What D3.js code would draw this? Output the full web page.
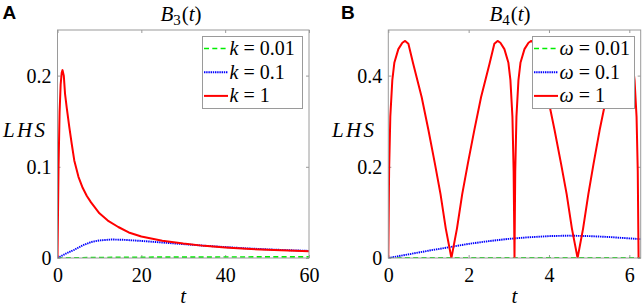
<!DOCTYPE html>
<html>
<head>
<meta charset="utf-8">
<script src="https://cdn.jsdelivr.net/npm/d3@7"></script>
<style>
  html, body { margin: 0; padding: 0; background: #fff; }
  svg { display: block; }
  text { font-family: "Liberation Serif", "DejaVu Serif", serif; fill: #000; }
</style>
</head>
<body>
<div id="chart"></div>
<script>
// ── Panel A: B3(t) ─────────────────────────────────────────────────────────
const tB3 = [0, 0.25, 0.5, 0.75, 1.0, 1.2, 1.5, 1.8, 2.2, 2.8, 3.4, 4, 5, 6, 7, 8, 10, 12, 14.5, 17, 20, 25, 30, 35, 40, 45, 50, 55, 60];
const b3k1 = [0, 0.1, 0.16, 0.19, 0.203, 0.206, 0.2, 0.18, 0.165, 0.144, 0.125, 0.107, 0.089, 0.077, 0.068, 0.061, 0.049, 0.041, 0.034, 0.028, 0.0235, 0.019, 0.0158, 0.0133, 0.0115, 0.0101, 0.009, 0.0082, 0.0075];
const tB3b = [0, 2, 4, 6, 8, 10, 13, 16, 20, 25, 30, 35, 40, 45, 50, 55, 60];
const b3k01 = [0, 0.0048, 0.009, 0.0138, 0.0175, 0.0193, 0.0203, 0.0199, 0.0187, 0.017, 0.0152, 0.0135, 0.012, 0.0106, 0.0095, 0.0086, 0.0078];
const b3k001 = [0, 0.0001, 0.0002, 0.0003, 0.0004, 0.0005, 0.0006, 0.0007, 0.0008, 0.0009, 0.001, 0.001, 0.0011, 0.0011, 0.0012, 0.0012, 0.0012];

// ── Panel B: B4(t) ─────────────────────────────────────────────────────────
const tB4r = [0, 0.02, 0.05, 0.1, 0.15, 0.25, 0.35, 0.42, 0.5, 0.62, 0.83, 1.0, 1.16, 1.3, 1.43, 1.571,
              1.71, 1.84, 1.98, 2.14, 2.31, 2.52, 2.64, 2.72, 2.79, 2.89, 2.99, 3.04, 3.09, 3.12, 3.1416,
              3.16, 3.19, 3.24, 3.29, 3.39, 3.49, 3.56, 3.64, 3.76, 3.97, 4.14, 4.30, 4.44, 4.57, 4.712,
              4.85, 4.98, 5.11, 5.26, 5.43, 5.63, 5.75, 5.83, 5.89, 5.99, 6.08, 6.13, 6.18, 6.21, 6.23];
const b4w1 = [0, 0.19, 0.31, 0.39, 0.428, 0.458, 0.472, 0.476, 0.47, 0.426, 0.353, 0.28, 0.207, 0.14, 0.065, 0,
              0.065, 0.14, 0.207, 0.28, 0.353, 0.426, 0.47, 0.476, 0.472, 0.458, 0.428, 0.39, 0.31, 0.19, 0,
              0.19, 0.31, 0.39, 0.428, 0.458, 0.472, 0.476, 0.47, 0.426, 0.353, 0.28, 0.207, 0.14, 0.065, 0,
              0.065, 0.14, 0.207, 0.28, 0.353, 0.426, 0.47, 0.476, 0.472, 0.458, 0.428, 0.39, 0.31, 0.19, 0];
const tB4b = [0, 0.5, 1, 1.5, 2, 2.5, 3, 3.5, 4, 4.5, 5, 5.5, 6, 6.2832];
const b4w01 = [0, 0.008, 0.016, 0.0235, 0.031, 0.037, 0.042, 0.0455, 0.048, 0.049, 0.048, 0.046, 0.043, 0.0415];
const b4w001 = [0, 0.0001, 0.0001, 0.0002, 0.0002, 0.0003, 0.0003, 0.0004, 0.0004, 0.0004, 0.0005, 0.0005, 0.0005, 0.0005];

const xTicksA = [0, 20, 40, 60];
const yTicksA = [0, 0.1, 0.2];
const xTicksB = [0, 2, 4, 6];
const yTicksB = [0, 0.2, 0.4];

const legendA = ["0.01", "0.1", "1"];
const legendB = ["0.01", "0.1", "1"];

const W = 643, H = 308;
const AXIS_GREY = "#9a9a9a";
const FS = 20;
const SERIF = '"Liberation Serif", "DejaVu Serif", serif';

const STYLES = [
  { color: "#00ee00", width: 1.7, dash: "5,3.3" },
  { color: "#0000ff", width: 1.9, dash: "1.4,0.8" },
  { color: "#ff0000", width: 2,   dash: null }
];

const svg = d3.select("#chart").append("svg")
  .attr("width", W).attr("height", H);

function drawPanel(cfg) {
  const x = d3.scaleLinear().domain(cfg.xDomain).range([cfg.left, cfg.right]);
  const y = d3.scaleLinear().domain(cfg.yDomain).range([cfg.bottom, cfg.top]);
  const g = svg.append("g");

  // clip for the curves
  const clipId = "clip-" + cfg.id;
  svg.append("clipPath").attr("id", clipId)
    .append("rect")
      .attr("x", cfg.left).attr("y", cfg.top)
      .attr("width", cfg.right - cfg.left).attr("height", cfg.bottom - cfg.top);

  // axes (ticks point inward, on all four sides)
  const axB = g.append("g").attr("transform", `translate(0,${cfg.bottom})`)
    .call(d3.axisBottom(x).tickValues(cfg.xTicks).tickSizeInner(-3).tickSizeOuter(0)
      .tickPadding(10).tickFormat(d3.format("d")));
  const axT = g.append("g").attr("transform", `translate(0,${cfg.top})`)
    .call(d3.axisTop(x).tickValues(cfg.xTicks).tickSizeInner(-3).tickSizeOuter(0).tickFormat(""));
  const axL = g.append("g").attr("transform", `translate(${cfg.left},0)`)
    .call(d3.axisLeft(y).tickValues(cfg.yTicks).tickSizeInner(-3).tickSizeOuter(0)
      .tickPadding(6).tickFormat(d => d === 0 ? "0" : d3.format(".1f")(d)));
  const axR = g.append("g").attr("transform", `translate(${cfg.right},0)`)
    .call(d3.axisRight(y).tickValues(cfg.yTicks).tickSizeInner(-3).tickSizeOuter(0).tickFormat(""));

  [axB, axT, axL, axR].forEach(a => {
    a.attr("font-family", SERIF);
    a.select("path.domain").remove();
    a.selectAll("line").attr("stroke", AXIS_GREY).attr("stroke-width", 1);
    a.selectAll("text")
      .attr("fill", "#000")
      .style("font-family", SERIF)
      .style("font-size", FS + "px");
  });

  // curves
  const line = d3.line().x(d => x(d[0])).y(d => y(d[1]));
  const lines = svg.append("g").attr("clip-path", `url(#${clipId})`);
  cfg.series.forEach((s, i) => {
    const st = STYLES[i];
    lines.append("path")
      .datum(d3.zip(s.t, s.v))
      .attr("fill", "none")
      .attr("stroke", st.color)
      .attr("stroke-width", st.width)
      .attr("stroke-dasharray", st.dash)
      .attr("stroke-linejoin", "round")
      .attr("d", line);
  });

  // box
  svg.append("rect")
    .attr("x", cfg.left).attr("y", cfg.top)
    .attr("width", cfg.right - cfg.left).attr("height", cfg.bottom - cfg.top)
    .attr("fill", "none").attr("stroke", AXIS_GREY).attr("stroke-width", 1);

  // title  B_n(t)
  const title = svg.append("text")
    .attr("x", cfg.titleX).attr("y", 21)
    .attr("text-anchor", "middle")
    .style("font-size", "21px");
  title.append("tspan").style("font-style", "italic").text("B");
  title.append("tspan").attr("dy", 4).style("font-size", "15px").text(cfg.sub);
  title.append("tspan").attr("dy", -4).attr("dx", 1).text("(");
  title.append("tspan").style("font-style", "italic").text("t");
  title.append("tspan").text(")");

  // panel letter
  svg.append("text")
    .attr("x", cfg.letterX).attr("y", 18.5)
    .style("font-family", '"Liberation Sans", Arial, sans-serif')
    .style("font-weight", "bold")
    .style("font-size", "19px")
    .text(cfg.letter);

  // y label
  svg.append("text")
    .attr("x", cfg.lhsX).attr("y", 137)
    .style("font-style", "italic")
    .style("font-size", "21px")
    .style("letter-spacing", "2.3px")
    .text("LHS");

  // x label
  svg.append("text")
    .attr("x", (cfg.left + cfg.right) / 2).attr("y", 302.5)
    .attr("text-anchor", "middle")
    .style("font-style", "italic")
    .style("font-size", "21px")
    .text("t");

  // legend
  const lg = svg.append("g");
  lg.append("rect")
    .attr("x", cfg.legX).attr("y", 36.5)
    .attr("width", cfg.legW).attr("height", 72)
    .attr("fill", "#fff").attr("stroke", AXIS_GREY).attr("stroke-width", 1);
  cfg.legend.forEach((lab, i) => {
    const st = STYLES[i];
    const cy = 48.5 + i * 23.7;
    lg.append("line")
      .attr("x1", cfg.legX + 1.5).attr("x2", cfg.legX + 25.5)
      .attr("y1", cy).attr("y2", cy)
      .attr("stroke", st.color).attr("stroke-width", st.width)
      .attr("stroke-dasharray", st.dash);
    const tx = lg.append("text")
      .attr("x", cfg.legX + 27).attr("y", cy + 6.5)
      .style("font-size", FS + "px");
    tx.append("tspan").style("font-style", "italic").text(cfg.sym);
    tx.append("tspan").attr("dx", 5).text("=");
    tx.append("tspan").attr("dx", 5).text(lab);
  });
}

drawPanel({
  id: "a", letter: "A", letterX: 2.5, lhsX: 3, sub: "3", titleX: 181,
  left: 57.5, right: 309, top: 30, bottom: 258,
  xDomain: [0, 60], yDomain: [0, 0.25],
  xTicks: xTicksA, yTicks: yTicksA,
  series: [
    { t: tB3b, v: b3k001 },
    { t: tB3b, v: b3k01 },
    { t: tB3,  v: b3k1 }
  ],
  legX: 202.5, legW: 100, legend: legendA, sym: "k"
});

drawPanel({
  id: "b", letter: "B", letterX: 341, lhsX: 332, sub: "4", titleX: 510,
  left: 388.3, right: 640.7, top: 30, bottom: 258,
  xDomain: [0, 2 * Math.PI], yDomain: [0, 0.5],
  xTicks: xTicksB, yTicks: yTicksB,
  series: [
    { t: tB4b, v: b4w001 },
    { t: tB4b, v: b4w01 },
    { t: tB4r, v: b4w1 }
  ],
  legX: 532.5, legW: 102, legend: legendB, sym: "\u03c9"
});
</script>
</body>
</html>
